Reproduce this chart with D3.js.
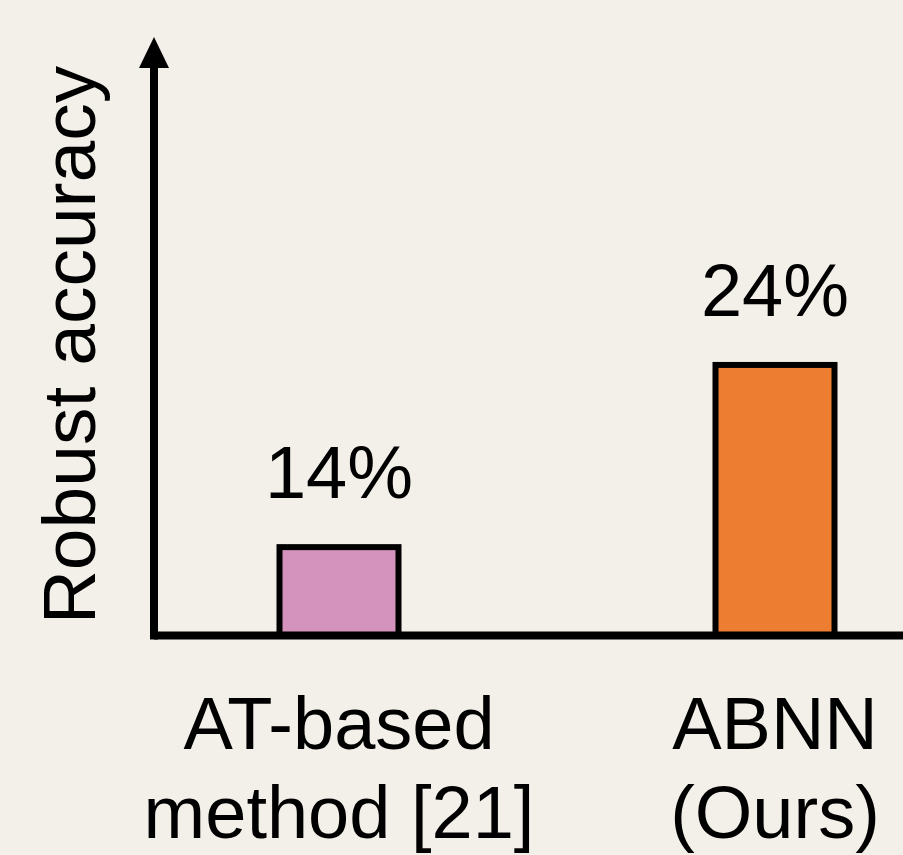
<!DOCTYPE html>
<html>
<head>
<meta charset="utf-8">
<script src="https://cdn.jsdelivr.net/npm/d3@7"></script>
<style>
  html, body { margin: 0; padding: 0; background: #f3f0e9; }
  svg { display: block; }
  text { font-family: "Liberation Sans", Arial, sans-serif; fill: #000; }
</style>
</head>
<body>
<div id="chart"></div>
<script>
// data
var categories = ["AT-based method [21]", "ABNN (Ours)"];
var labelLines = [["AT-based", "method [21]"], ["ABNN", "(Ours)"]];
var values = [14, 24];
var valueLabels = ["14%", "24%"];
var barColors = ["#d393bd", "#ed7d31"];
var yTitle = "Robust accuracy";

var width = 903, height = 855;
var fontSize = 74;

function translate(x, y){
    return "translate(" + x + "," + y + ")";
}

var svg = d3.select("#chart")
    .append("svg")
    .attr("width", width)
    .attr("height", height);

svg.append("rect")
    .attr("width", width)
    .attr("height", height)
    .attr("fill", "#f3f0e9");

// axis origin
var x0 = 154, y0 = 635.5;

// y scale: axis does not start at zero
var yScale = d3.scaleLinear()
    .domain([9.15, 42])
    .range([y0, 37]);

var xScale = d3.scalePoint()
    .domain(categories)
    .range([339, 775]);

var barWidth = 119;

// bars
svg.selectAll(".bar")
    .data(values)
    .enter()
    .append("rect")
    .attr("class", "bar")
    .attr("x", function(d, i){ return xScale(categories[i]) - barWidth / 2; })
    .attr("y", function(d){ return yScale(d); })
    .attr("width", barWidth)
    .attr("height", function(d){ return y0 - yScale(d); })
    .attr("fill", function(d, i){ return barColors[i]; })
    .attr("stroke", "#000")
    .attr("stroke-width", 6);

// value labels
svg.selectAll(".val")
    .data(values)
    .enter()
    .append("text")
    .attr("class", "val")
    .attr("x", function(d, i){ return xScale(categories[i]); })
    .attr("y", function(d){ return yScale(d) - 49; })
    .attr("text-anchor", "middle")
    .style("font-size", fontSize + "px")
    .text(function(d, i){ return valueLabels[i]; });

// axes
svg.append("line")
    .attr("x1", x0).attr("y1", y0)
    .attr("x2", width).attr("y2", y0)
    .attr("stroke", "#000")
    .attr("stroke-width", 8);

svg.append("line")
    .attr("x1", x0).attr("y1", y0 + 4)
    .attr("x2", x0).attr("y2", 60)
    .attr("stroke", "#000")
    .attr("stroke-width", 8);

// arrow head
svg.append("path")
    .attr("d", "M" + (x0 - 15) + ",68 L" + x0 + ",37 L" + (x0 + 15) + ",68 Z")
    .attr("fill", "#000");

// category labels
var cat = svg.selectAll(".cat")
    .data(categories)
    .enter()
    .append("text")
    .attr("class", "cat")
    .attr("text-anchor", "middle")
    .style("font-size", fontSize + "px");

cat.selectAll("tspan")
    .data(function(d, i){ return labelLines[i].map(function(t){ return {t: t, x: xScale(d)}; }); })
    .enter()
    .append("tspan")
    .attr("x", function(d){ return d.x; })
    .attr("y", function(d, j){ return 749 + j * 89; })
    .text(function(d){ return d.t; });

// y title
svg.append("text")
    .attr("transform", translate(95, 345) + " rotate(-90)")
    .attr("text-anchor", "middle")
    .style("font-size", "75px")
    .text(yTitle);
</script>
</body>
</html>
